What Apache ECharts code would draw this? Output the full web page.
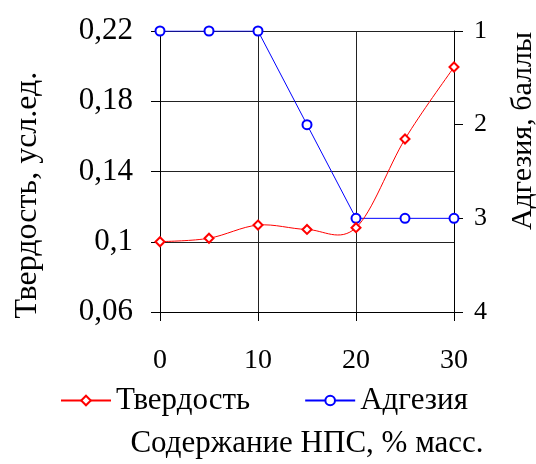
<!DOCTYPE html>
<html><head><meta charset="utf-8">
<script src="https://cdn.jsdelivr.net/npm/echarts@6/dist/echarts.min.js"></script>
<style>html,body{margin:0;padding:0;background:#fff}#c{width:536px;height:464px}</style>
</head><body><div id="c"></div>
<script>
const xValues = [0, 5, 10, 15, 20, 25, 30];
const hardness = [0.100, 0.102, 0.1095, 0.107, 0.108, 0.1585, 0.1995];
const adhesion = [1, 1, 1, 2, 3, 3, 3];
const leftTicks = [0.06, 0.10, 0.14, 0.18, 0.22];
const seriesNames = ['Твердость', 'Адгезия'];
const xName = 'Содержание НПС, % масс.';
const leftName = 'Твердость, усл.ед.';
const rightName = 'Адгезия, баллы';

const F = 'Liberation Serif';
const n = xValues.length;
const chart = echarts.init(document.getElementById('c'), null, {renderer: 'canvas'});
chart.setOption({
  animation: false,
  backgroundColor: '#fff',
  textStyle: {fontFamily: F, color: '#000'},
  grid: {left: 160, right: 82, top: 31, bottom: 151, containLabel: false},
  legend: {
    data: seriesNames, top: 380, left: 55, itemWidth: 50, itemHeight: 12, itemGap: 54,
    lineStyle: {opacity: 1},
    textStyle: {fontFamily: F, fontSize: 31, color: '#000'}
  },
  xAxis: {
    type: 'value', min: 0, max: 30, interval: 10,
    name: xName, nameLocation: 'middle', nameGap: 116,
    nameTextStyle: {fontFamily: F, fontSize: 31, color: '#000'},
    axisLine: {show: true, lineStyle: {color: '#000', width: 1}},
    axisTick: {show: true, length: 9, lineStyle: {color: '#000'}},
    axisLabel: {fontFamily: F, fontSize: 28, color: '#000', margin: 35},
    splitLine: {show: true, lineStyle: {color: '#222', width: 1}}
  },
  yAxis: [{
    type: 'value', min: 0.06, max: 0.22, position: 'left',
    axisLine: {show: true, lineStyle: {color: '#000'}},
    axisTick: {show: true, length: 9, customValues: leftTicks, lineStyle: {color: '#000'}},
    axisLabel: {customValues: leftTicks, fontFamily: F, fontSize: 31, color: '#000', margin: 27,
      formatter: v => String(+v.toFixed(2)).replace('.', ',')},
    splitLine: {show: true, lineStyle: {color: '#222', width: 1}}
  }, {
    type: 'value', min: 1, max: 4, interval: 1, inverse: true, position: 'right',
    axisLine: {show: true, lineStyle: {color: '#000'}},
    axisTick: {show: true, length: 9, lineStyle: {color: '#000'}},
    axisLabel: {fontFamily: F, fontSize: 26, color: '#000', margin: 20},
    splitLine: {show: false}
  }],
  graphic: [
    {type: 'rect', z: 100, shape: {x: 130, y: 368, width: 360, height: 12}, style: {fill: '#fff'}},
    {type: 'text', z: 100, x: 28, y: 195, rotation: Math.PI / 2,
      style: {text: leftName, font: '32px "Liberation Serif"', fill: '#000', align: 'center', verticalAlign: 'middle'}},
    {type: 'text', z: 100, x: 523, y: 131, rotation: Math.PI / 2,
      style: {text: rightName, font: '30px "Liberation Serif"', fill: '#000', align: 'center', verticalAlign: 'middle'}}
  ],
  series: [{
    name: seriesNames[0], type: 'line', yAxisIndex: 0,
    data: xValues.map((x, i) => [x, hardness[i]]),
    symbol: 'diamond', symbolSize: 9, showAllSymbol: true,
    lineStyle: {color: '#ff0000', width: 1, opacity: 0},
    itemStyle: {color: '#fff', borderColor: '#ff0000', borderWidth: 2},
    z: 4
  }, {
    name: 'spline', type: 'custom', yAxisIndex: 0, silent: true,
    data: xValues.map((x, i) => [x, hardness[i]]),
    encode: {x: 0, y: 1},
    z: 3,
    renderItem: (params, api) => {
      const i = params.dataIndex;
      if (i >= n - 1) return null;
      const P = j => { const k = Math.max(0, Math.min(n - 1, j)); return api.coord([xValues[k], hardness[k]]); };
      const p0 = P(i - 1), p1 = P(i), p2 = P(i + 1), p3 = P(i + 2);
      return {
        type: 'bezierCurve',
        shape: {
          x1: p1[0], y1: p1[1], x2: p2[0], y2: p2[1],
          cpx1: p1[0] + (p2[0] - p0[0]) / 6, cpy1: p1[1] + (p2[1] - p0[1]) / 6,
          cpx2: p2[0] - (p3[0] - p1[0]) / 6, cpy2: p2[1] - (p3[1] - p1[1]) / 6
        },
        style: {stroke: '#ff0000', lineWidth: 1, fill: null}
      };
    }
  }, {
    name: seriesNames[1], type: 'line', yAxisIndex: 1,
    data: xValues.map((x, i) => [x, adhesion[i]]),
    symbol: 'circle', symbolSize: 9, showAllSymbol: true,
    lineStyle: {color: '#0000ff', width: 1},
    itemStyle: {color: '#fff', borderColor: '#0000ff', borderWidth: 2},
    z: 2
  }]
});
</script></body></html>
